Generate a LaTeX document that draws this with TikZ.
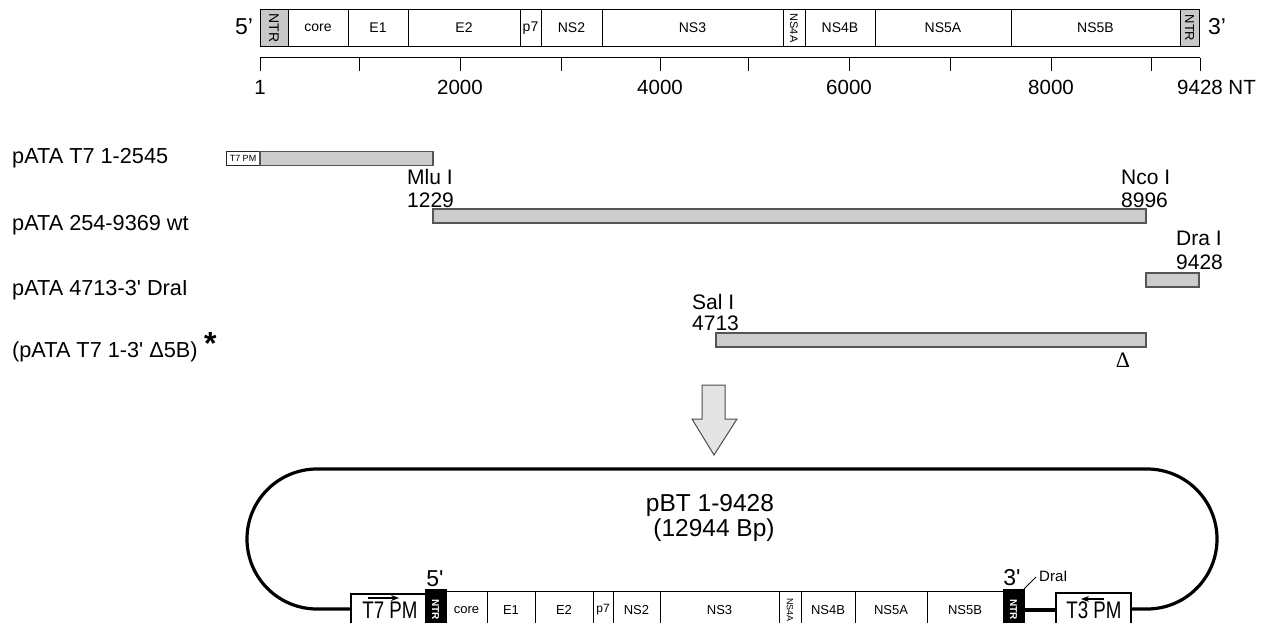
\documentclass[tikz,border=0pt]{standalone}
\usepackage{graphicx}
\usepackage{fontspec}
\setmainfont{Liberation Sans}
\newfontfamily\qfont{Liberation Sans}
\newfontfamily\seriffam{Liberation Serif}
\usetikzlibrary{arrows.meta}
\newcommand\myfs[1]{\fontsize{#1}{#1}\selectfont}
\newcommand\sq{{\qfont\char"0027}}
\definecolor{barfill}{RGB}{204,204,204}
\definecolor{bardraw}{RGB}{85,85,85}
\definecolor{ntrfill}{RGB}{200,200,200}
\definecolor{arrfill}{RGB}{228,228,228}
\begin{document}
\begin{tikzpicture}[x=1pt,y=-1pt,
  seg/.style={draw, line width=0.8pt, inner sep=0pt, outer sep=0pt, anchor=north west, minimum height=37pt, font=\myfs{14}},
  ntrtop/.style={seg, fill=ntrfill},
  bseg/.style={draw, line width=1pt, inner sep=0pt, outer sep=0pt, anchor=north west, minimum height=38pt, font=\myfs{13}},
  bntr/.style={draw, fill=black, text=white, inner sep=0pt, outer sep=0pt, anchor=north west, minimum height=41pt, minimum width=21pt, font=\myfs{10}\bfseries},
  pmbox/.style={draw, line width=1.1pt, fill=white, inner sep=0pt, outer sep=0pt, anchor=north west, minimum height=36pt, minimum width=75pt},
  pmtext/.style={font=\myfs{24}, xscale=0.78, anchor=base, inner sep=0pt},
  bar/.style={draw=bardraw, fill=barfill, line width=1.2pt, inner sep=0pt, outer sep=0pt, anchor=north west, minimum height=14pt},
  rowlabel/.style={anchor=west, font=\myfs{21.7}, inner sep=0pt},
  sitelabel/.style={anchor=west, font=\myfs{21}, inner sep=0pt},
  scalelabel/.style={font=\myfs{20.5}, inner sep=0pt},
  tick/.style={line width=1pt},
  plasmid/.style={line width=3.2pt},
  pmarrow/.style={line width=1.2pt, -{Stealth[length=8pt,width=6pt]}},
  bigtitle/.style={font=\myfs{24.5}, anchor=base, inner sep=0pt},
]
\useasboundingbox (0,0) rectangle (1269,623);
\clip (0,0) rectangle (1269,623);

% ---------- genome map ----------
\node[font=\myfs{23}] (p5) at (244,27) {5’};
\node[font=\myfs{23}] (p3) at (1217,27) {3’};
\node[ntrtop, minimum width=28] (tN5) at (260,9.5) {\rotatebox{-90}{NTR}};
\node[seg, minimum width=60] (tcore) at (288,9.5) {core};
\node[seg, minimum width=60] (tE1) at (348,9.5) {E1};
\node[seg, minimum width=112] (tE2) at (408,9.5) {E2};
\node[seg, minimum width=21] (tp7) at (520,9.5) {p7};
\node[seg, minimum width=61] (tNS2) at (541,9.5) {NS2};
\node[seg, minimum width=181] (tNS3) at (602,9.5) {NS3};
\node[seg, minimum width=22] (tNS4A) at (783,9.5) {\rotatebox{-90}{\myfs{11}NS4A}};
\node[seg, minimum width=70] (tNS4B) at (805,9.5) {NS4B};
\node[seg, minimum width=136] (tNS5A) at (875,9.5) {NS5A};
\node[seg, minimum width=169] (tNS5B) at (1011,9.5) {NS5B};
\node[ntrtop, minimum width=19] (tN3) at (1180,9.5) {\rotatebox{-90}{\myfs{13}NTR}};

% ---------- scale ----------
\coordinate (s0) at (260,58);
\coordinate (s1) at (1200,58);
\draw[tick] (s0) -- (s1);
\foreach \x in {260,359,460,561,660,748,849,950,1051,1151,1200}
  \draw[tick] (\x,58) -- (\x,71);
\node[scalelabel] (n1) at (260,87.5) {1};
\node[scalelabel] (n2000) at (460,87.5) {2000};
\node[scalelabel] (n4000) at (660,87.5) {4000};
\node[scalelabel] (n6000) at (849,87.5) {6000};
\node[scalelabel] (n8000) at (1051,87.5) {8000};
\node[scalelabel, anchor=west] (n9428) at (1177,87.5) {9428 NT};

% ---------- clones ----------
\node[rowlabel] (lab1) at (12,158) {pATA T7 1-2545};
\node[rowlabel] (lab2) at (12,225) {pATA 254-9369 wt};
\node[rowlabel] (lab3) at (12,290) {pATA 4713-3\sq{} DraI};
\node[rowlabel] (lab4) at (12,352) {(pATA T7 1-3\sq{} Δ5B)};
\node[font=\myfs{32}\bfseries, inner sep=0pt, anchor=west] (star) at (lab4.east) [yshift=9pt, xshift=6pt] {*};

\node[bar, draw=black!85, line width=0.8pt, fill=white, minimum width=34, font=\myfs{9}] (r1pm) at (226,151.5) {T7 PM};
\node[bar, minimum width=173] (r1) at (260,151.5) {};
\node[bar, minimum width=713] (r2) at (433,209) {};
\node[bar, minimum width=53] (r3) at (1146,273) {};
\node[bar, minimum width=430] (r4) at (716,333) {};

\node[sitelabel] (mlu) at (407,177) {Mlu I};
\node[sitelabel] (mlun) at (407,200) {1229};
\node[sitelabel] (nco) at (1121,177) {Nco I};
\node[sitelabel] (ncon) at (1121,200) {8996};
\node[sitelabel] (dra) at (1176,238) {Dra I};
\node[sitelabel] (dran) at (1176,262) {9428};
\node[sitelabel] (sal) at (692,302) {Sal I};
\node[sitelabel] (saln) at (692,323) {4713};
\node[font=\seriffam\myfs{22}, inner sep=0pt] (delta) at (1123,360) {Δ};

% ---------- big arrow ----------
\draw[draw=black!70, fill=arrfill, line width=1pt]
  (702,385) -- (725,385) -- (725,419) -- (737,419) -- (714,455) -- (692,419) -- (702,419) -- cycle;

% ---------- plasmid ----------
\node[bigtitle] (pbt) at (710,511) {pBT 1-9428};
\node[bigtitle] (pbtbp) at (714,536) {(12944 Bp)};

\node[pmbox] (t7b) at (351,594) {};
\node[bntr] (bN5) at (425,589) {\rotatebox{-90}{NTR}};
\node[bseg, minimum width=41] (bcore) at (446,591) {core};
\node[bseg, minimum width=48] (bE1) at (487,591) {E1};
\node[bseg, minimum width=58] (bE2) at (535,591) {E2};
\node[bseg, minimum width=20] (bp7) at (593,591) {\myfs{12}p7};
\node[bseg, minimum width=47] (bNS2) at (613,591) {NS2};
\node[bseg, minimum width=119] (bNS3) at (660,591) {NS3};
\node[bseg, minimum width=22] (bNS4A) at (779,591) {\rotatebox{-90}{\myfs{9}NS4A}};
\node[bseg, minimum width=54] (bNS4B) at (801,591) {NS4B};
\node[bseg, minimum width=72] (bNS5A) at (855,591) {NS5A};
\node[bseg, minimum width=76] (bNS5B) at (927,591) {NS5B};
\node[bntr] (bN3) at (1003,589) {\rotatebox{-90}{NTR}};
\node[pmbox] (t3b) at (1056,593) {};

\draw[plasmid] (t7b.west |- 0,609) -- (317,609)
  arc[start angle=90, end angle=270, radius=70] -- (1147,469)
  arc[start angle=270, end angle=450, radius=70] -- (t3b.east |- 0,609);
\draw[plasmid] (bN3.east |- 0,610) -- (t3b.west |- 0,610);

\node[pmtext] (t7txt) at (390,618) {T7 PM};
\node[pmtext] (t3txt) at (1094,618) {T3 PM};
\coordinate (a7s) at (368,598);
\coordinate (a7e) at (399,598);
\draw[pmarrow] (a7s) -- (a7e);
\coordinate (a3s) at (1104,599);
\coordinate (a3e) at (1081,599);
\draw[pmarrow] (a3s) -- (a3e);

\node[font=\myfs{23}, inner sep=0pt] (b5) at (435,579) {5\sq};
\node[font=\myfs{23}, inner sep=0pt] (b3) at (1012,578) {3\sq};
\coordinate (dracut) at (1036,577);
\draw[line width=0.8pt] (bN3.north east) -- (dracut);
\node[anchor=west, font=\myfs{15}, inner sep=0pt] (dralab) at (1039,576) {DraI};
\end{tikzpicture}
\end{document}
